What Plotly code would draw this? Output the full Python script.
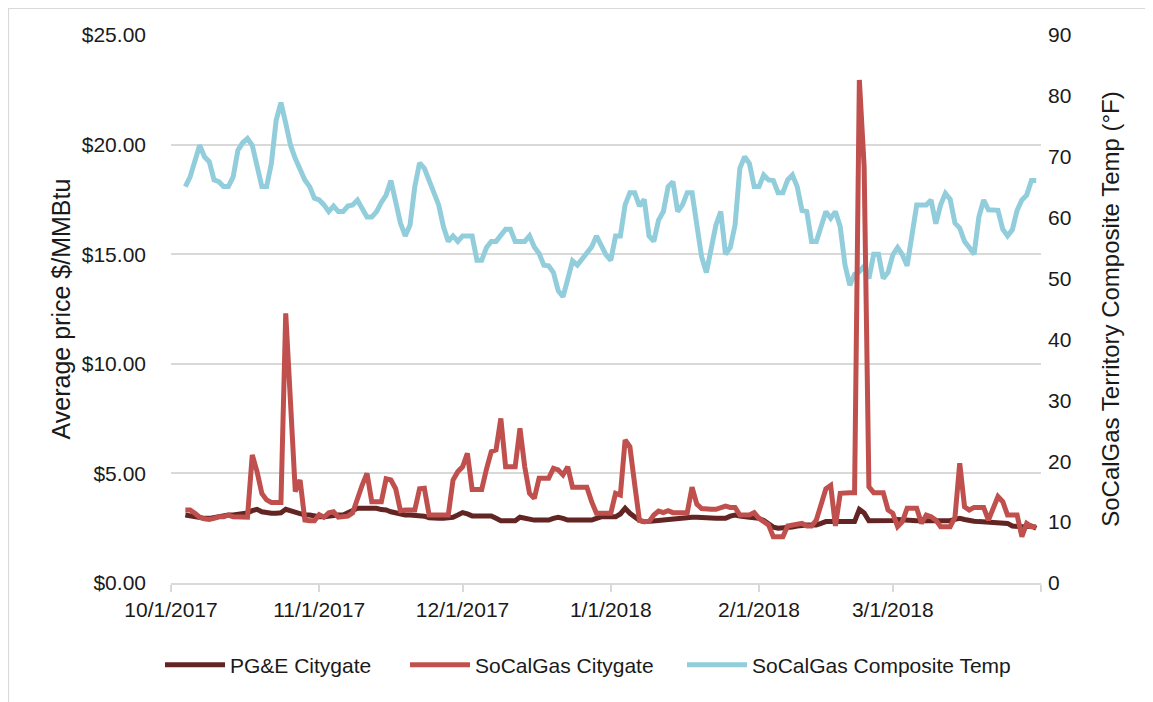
import pandas as pd
import plotly.graph_objects as go

start_date = "2017-10-04"

temp_f = [65.1, 66.7, 69.3, 71.9, 70.0, 69.2, 66.2, 65.9, 65.1, 65.1,
          66.7, 71.1, 72.3, 73.0, 71.9, 68.9, 65.1, 65.1, 68.9, 76.0,
          78.9, 75.5, 71.9, 69.7, 67.8, 66.2, 65.1, 63.2, 62.9, 62.1,
          61.0, 61.9, 61.0, 61.0, 61.9, 62.1, 62.9, 61.3, 60.1, 60.1,
          61.0, 62.5, 63.7, 66.1, 62.9, 59.1, 57.0, 58.8, 65.1, 69.0,
          68.1, 65.9, 64.0, 62.1, 58.5, 56.1, 57.0, 56.1, 57.0, 57.0,
          57.0, 53.0, 53.0, 55.1, 56.1, 56.1, 57.2, 58.1, 58.1, 56.1,
          56.1, 56.1, 57.0, 55.2, 54.1, 52.2, 52.1, 51.0, 48.0, 47.0,
          49.9, 52.9, 52.2, 53.3, 54.4, 55.2, 57.0, 55.2, 53.9, 53.0,
          57.0, 57.0, 62.1, 64.1, 64.1, 61.9, 63.0, 57.0, 56.1, 59.6,
          61.0, 65.1, 65.9, 61.0, 62.1, 64.1, 64.1, 58.8, 53.6, 51.0,
          55.0, 58.8, 61.0, 54.0, 55.1, 58.8, 68.1, 70.0, 68.9, 65.1,
          65.1, 67.0, 66.2, 66.1, 64.1, 64.1, 66.2, 67.0, 65.1, 61.2,
          61.0, 56.1, 56.1, 58.5, 61.0, 59.9, 61.0, 58.5, 52.2, 48.9,
          50.7, 51.1, 52.1, 50.0, 54.0, 54.0, 50.0, 51.0, 53.9, 55.1,
          53.9, 52.1, 57.4, 62.1, 62.1, 62.1, 62.9, 59.0, 62.1, 64.0,
          63.0, 59.1, 58.3, 56.1, 55.1, 54.0, 60.1, 62.9, 61.3, 61.3,
          61.2, 58.1, 57.0, 58.0, 61.2, 62.9, 63.7, 66.1, 66.1]

socal_citygate = [3.33, 3.33, 3.18, 3.00, 2.93, 2.90, 2.95, 3.02, 3.02, 3.10,
                  3.02, 3.00, 3.00, 3.00, 5.84, 5.08, 4.09, 3.79, 3.67, 3.67,
                  3.67, 12.3, 8.20, 4.17, 4.70, 2.87, 2.84, 2.84, 3.12, 3.00,
                  3.20, 3.25, 3.00, 3.02, 3.05, 3.20, 3.90, 4.47, 5.00, 3.71,
                  3.71, 3.71, 4.75, 4.70, 4.30, 3.30, 3.33, 3.33, 3.33, 4.30,
                  4.32, 3.10, 3.10, 3.10, 3.10, 3.10, 4.70, 5.08, 5.30, 5.92,
                  4.27, 4.27, 4.27, 5.20, 5.99, 6.07, 7.51, 5.30, 5.30, 5.30,
                  7.06, 5.30, 4.09, 3.86, 4.78, 4.78, 4.78, 5.23, 5.16, 4.93,
                  5.30, 4.37, 4.37, 4.37, 4.37, 3.71, 3.18, 3.18, 3.18, 3.18,
                  4.09, 4.01, 6.52, 6.22, 4.50, 2.85, 2.80, 2.80, 3.10, 3.28,
                  3.21, 3.30, 3.21, 3.21, 3.21, 3.21, 4.37, 3.60, 3.40, 3.36,
                  3.36, 3.36, 3.45, 3.51, 3.45, 3.45, 3.10, 3.10, 3.10, 3.21,
                  2.95, 2.80, 2.65, 2.11, 2.11, 2.11, 2.60, 2.65, 2.65, 2.72,
                  2.60, 2.60, 2.87, 3.50, 4.30, 4.45, 2.60, 4.09, 4.12, 4.12,
                  4.12, 22.95, 19.0, 4.39, 4.12, 4.12, 4.12, 3.33, 3.18, 2.57,
                  2.80, 3.41, 3.41, 3.41, 2.72, 3.10, 3.02, 2.87, 2.57, 2.57,
                  2.57, 3.00, 5.46, 3.48, 3.33, 3.45, 3.45, 3.45, 2.87, 3.40,
                  3.94, 3.71, 3.10, 3.10, 3.10, 2.11, 2.72, 2.57, 2.57]

pge_citygate = [3.10, 3.05, 3.00, 2.95, 2.95, 2.95, 3.00, 3.05, 3.10, 3.10,
                3.10, 3.12, 3.15, 3.20, 3.30, 3.36, 3.25, 3.20, 3.18, 3.18,
                3.20, 3.36, 3.30, 3.25, 3.20, 3.10, 3.10, 3.05, 3.02, 3.02,
                3.05, 3.10, 3.10, 3.10, 3.20, 3.30, 3.41, 3.41, 3.41, 3.41,
                3.41, 3.35, 3.33, 3.25, 3.20, 3.10, 3.10, 3.10, 3.10, 3.10,
                3.05, 2.98, 2.95, 2.95, 2.95, 2.95, 3.00, 3.10, 3.21, 3.15,
                3.06, 3.06, 3.06, 3.06, 3.06, 2.95, 2.84, 2.84, 2.84, 2.84,
                3.00, 2.95, 2.87, 2.87, 2.87, 2.87, 2.87, 2.95, 3.00, 2.95,
                2.87, 2.87, 2.87, 2.87, 2.87, 2.87, 2.95, 3.02, 3.02, 3.02,
                3.02, 3.15, 3.41, 3.18, 3.00, 2.85, 2.80, 2.80, 2.82, 2.85,
                2.87, 2.90, 2.92, 2.95, 2.98, 3.00, 3.00, 3.00, 2.98, 2.95,
                2.95, 2.95, 2.95, 2.95, 3.05, 3.10, 3.05, 3.00, 3.00, 2.98,
                2.95, 2.85, 2.72, 2.55, 2.50, 2.50, 2.50, 2.55, 2.60, 2.65,
                2.65, 2.65, 2.65, 2.72, 2.80, 2.80, 2.80, 2.80, 2.80, 2.80,
                2.80, 3.36, 3.20, 2.84, 2.84, 2.84, 2.84, 2.84, 2.85, 2.90,
                2.88, 2.84, 2.84, 2.84, 2.84, 2.84, 2.84, 2.84, 2.84, 2.84,
                2.84, 2.90, 2.95, 2.90, 2.84, 2.82, 2.80, 2.78, 2.75, 2.75,
                2.73, 2.72, 2.72, 2.60, 2.57, 2.57, 2.58, 2.60, 2.50]

x_tick_dates = ["2017-10-01", "2017-11-01", "2017-12-01", "2018-01-01",
                "2018-02-01", "2018-03-01", "2018-04-01"]
x_tick_text = ["10/1/2017", "11/1/2017", "12/1/2017", "1/1/2018",
               "2/1/2018", "3/1/2018", ""]

dates = pd.date_range(start_date, periods=len(temp_f), freq="D")

# page is offset 8px by the browser body margin
W, H = 1145, 694
ML, MR, MT, MB = 163, 112, 27, 119
PW = W - ML - MR
PH = H - MT - MB
PAGE_OFF = 8
FONT = "Liberation Sans, Arial, sans-serif"
GRID = "#D9D9D9"
TXT = "#1a1a1a"
LW = 5


def px_to_paper_x(page_x):
    return (page_x - PAGE_OFF - ML) / PW


def px_to_paper_y(page_y):
    return (H - MB - (page_y - PAGE_OFF)) / PH


fig = go.Figure()
fig.add_trace(go.Scatter(x=dates, y=temp_f, name="SoCalGas Composite Temp",
                         mode="lines", line=dict(color="#92CDDC", width=LW),
                         yaxis="y", legend="legend3"))
fig.add_trace(go.Scatter(x=dates, y=pge_citygate, name="PG&E Citygate",
                         mode="lines", line=dict(color="#632523", width=LW),
                         yaxis="y2", legend="legend"))
fig.add_trace(go.Scatter(x=dates, y=socal_citygate, name="SoCalGas Citygate",
                         mode="lines", line=dict(color="#C0504D", width=LW),
                         yaxis="y2", legend="legend2"))

fig.add_shape(type="rect", xref="paper", yref="paper",
              x0=(0.5 - ML) / PW, x1=(W + 30 - ML) / PW,
              y0=(H - MB - (H + 30)) / PH, y1=(H - MB - 0.5) / PH,
              line=dict(color=GRID, width=1.2), layer="below")

leg_common = dict(orientation="h", yanchor="middle", y=px_to_paper_y(665),
                  xanchor="left", font=dict(size=21, color=TXT),
                  itemwidth=60, bgcolor="rgba(0,0,0,0)")

fig.update_layout(
    width=W, height=H,
    margin=dict(l=ML, r=MR, t=MT, b=MB),
    paper_bgcolor="white", plot_bgcolor="white",
    font=dict(family=FONT, size=21, color=TXT),
    showlegend=True,
    legend=dict(x=px_to_paper_x(160), **leg_common),
    legend2=dict(x=px_to_paper_x(405), **leg_common),
    legend3=dict(x=px_to_paper_x(682), **leg_common),
    xaxis=dict(type="date", range=["2017-10-01", "2018-04-01"],
               tickmode="array", tickvals=x_tick_dates, ticktext=x_tick_text,
               showgrid=False, showline=True, linecolor=GRID, linewidth=1.5,
               ticks="outside", ticklen=7, tickcolor=GRID, tickwidth=1.5,
               tickfont=dict(size=21, color=TXT), zeroline=False),
    yaxis=dict(range=[0, 90], dtick=10, side="right", showgrid=False,
               zeroline=False, showline=False, ticks="",
               tickfont=dict(size=21, color=TXT), ticklabelstandoff=6,
               title=dict(text="SoCalGas Territory Composite Temp (°F)",
                          font=dict(size=24, color=TXT), standoff=31)),
    yaxis2=dict(range=[0, 25], dtick=5, side="left", overlaying="y",
                tickformat="$.2f", showgrid=True, gridcolor=GRID, gridwidth=1.5,
                zeroline=False, showline=False, ticks="",
                tickfont=dict(size=21, color=TXT), ticklabelstandoff=24,
                title=dict(text="Average price $/MMBtu",
                           font=dict(size=25, color=TXT), standoff=4)),
)

fig.write_html("out.html")
